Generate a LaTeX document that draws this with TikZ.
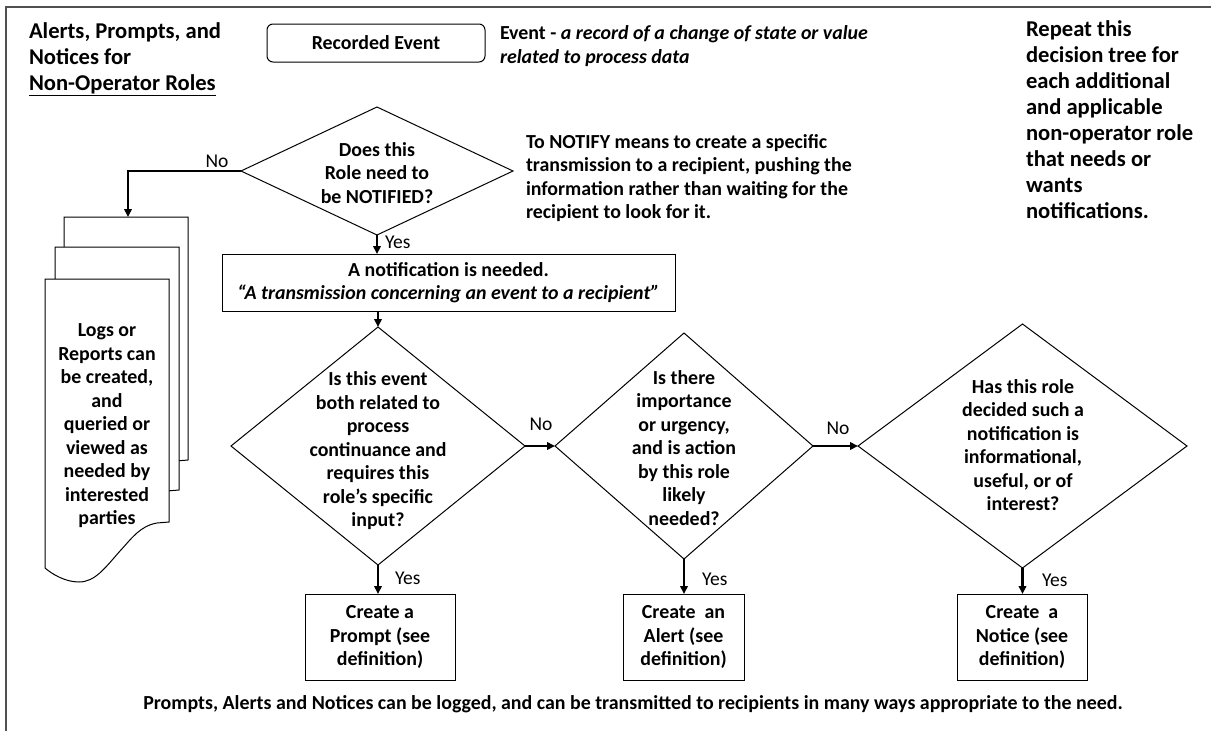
\documentclass[tikz,border=0pt]{standalone}
\usepackage{fontspec}
\setmainfont{Carlito}
\usetikzlibrary{shapes.geometric,arrows.meta}
\definecolor{framec}{RGB}{80,80,80}
\begin{document}
\begin{tikzpicture}[x=1pt,y=-1pt,
  every node/.style={inner sep=0pt, outer sep=0pt},
  txt/.style={font=\bfseries\fontsize{19.9}{23.5}\selectfont, align=center},
  big/.style={font=\bfseries\fontsize{22.6}{26}\selectfont, align=left},
  lbl/.style={font=\fontsize{19.5}{22}\selectfont},
  box/.style={draw, line width=1pt, txt},
  dia/.style={draw, shape=diamond, line width=1pt},
  arr/.style={line width=2.8pt, -{Triangle[length=8pt,width=7.5pt]}},
  docshape/.style={draw, line width=1pt, fill=white}
]
\useasboundingbox (0,0) rectangle (1211,731);
\fill[white] (0,0) rectangle (1211,731);
\draw[framec, line width=2pt] (1211,7) -- (6,7) -- (6,731);

% title
\node[big, anchor=west] (title) at (29,59) {Alerts, Prompts, and\\Notices for\\\underline{Non-Operator Roles}};

% recorded event
\node[box, rounded corners=6pt, minimum width=218pt, minimum height=38pt] (rec) at (376,43) {Recorded Event};
\node[txt, anchor=west, align=left] (evdef) at (500,46) {Event - \textit{a record of a change of state or value}\\\textit{related to process data}};

% first decision
\node[dia, minimum width=272pt, minimum height=128pt] (d1) at (377,171) {};
\node[txt] (d1t) at (377,173) {Does this\\Role need to\\be NOTIFIED?};
\node[txt, anchor=west, align=left] (notify) at (526,178) {To NOTIFY means to create a specific\\transmission to a recipient, pushing the\\information rather than waiting for the\\recipient to look for it.};

% repeat note
\node[big, anchor=west] (repeat) at (1026,120) {Repeat this\\decision tree for\\each additional\\and applicable\\non-operator role\\that needs or\\wants\\notifications.};

% multi-document
\foreach \sx/\sy in {64/217, 55/247, 45/279} {
  \draw[docshape, shift={(\sx,\sy)}] (0,0) -- (124,0) -- (124,243) -- (112,244)
    .. controls (95,247) and (87,259) .. (75,272)
    .. controls (60,289) and (50,303) .. (34,303)
    .. controls (20,303) and (7,295) .. (0,289) -- cycle;
}
\node[txt] (logs) at (107,426) {Logs or\\Reports can\\be created,\\and\\queried or\\viewed as\\needed by\\interested\\parties};
\coordinate (logtop) at (128,217);
\draw[arr] (d1.west) -| (logtop);
\node[lbl] (no1) at (217,161) {No};

% notification box
\node[box, minimum width=453pt, minimum height=57pt] (notif) at (448.5,282.5) {A notification is needed.\\\textit{“A transmission concerning an event to a recipient”}};
\draw[arr] (d1.south) -- (d1.south |- notif.north);
\node[lbl, anchor=west] (yes1) at (385,242) {Yes};

% decisions row
\node[dia, minimum width=294pt, minimum height=238pt] (d2) at (378,446) {};
\node[txt] (d2t) at (378,451) {Is this event\\both related to\\process\\continuance and\\requires this\\role’s specific\\input?};
\node[dia, minimum width=258pt, minimum height=226pt] (d3) at (684,446) {};
\node[txt] (d3t) at (684,448) {Is there\\importance\\or urgency,\\and is action\\by this role\\likely\\needed?};
\node[dia, minimum width=329pt, minimum height=244pt] (d4) at (1022.5,446) {};
\node[txt] (d4t) at (1023,445) {Has this role\\decided such a\\notification is\\informational,\\useful, or of\\interest?};

\draw[arr] (d2.north |- notif.south) -- (d2.north);
\draw[arr] (d2.east) -- (d3.west);
\draw[arr] (d3.east) -- (d4.west);
\node[lbl] (no2) at (541,424) {No};
\node[lbl] (no3) at (838,428) {No};

% result boxes
\node[box, minimum width=150pt, minimum height=86pt] (prompt) at (380,637) {Create a\\Prompt (see\\definition)};
\node[box, minimum width=121pt, minimum height=86pt] (alert) at (683.5,637) {Create\ \ an\\Alert (see\\definition)};
\node[box, minimum width=130pt, minimum height=86pt] (notice) at (1022,637) {Create\ \ a\\Notice (see\\definition)};

\draw[arr] (d2.south) -- (d2.south |- prompt.north);
\draw[arr] (d3.south) -- (d3.south |- alert.north);
\draw[arr] (d4.south) -- (d4.south |- notice.north);
\node[lbl, anchor=west] (yes2) at (395,578) {Yes};
\node[lbl, anchor=west] (yes3) at (702,579) {Yes};
\node[lbl, anchor=west] (yes4) at (1042,580) {Yes};

% footer
\node[txt] (foot) at (633,704) {Prompts, Alerts and Notices can be logged, and can be transmitted to recipients in many ways appropriate to the need.};
\end{tikzpicture}
\end{document}
